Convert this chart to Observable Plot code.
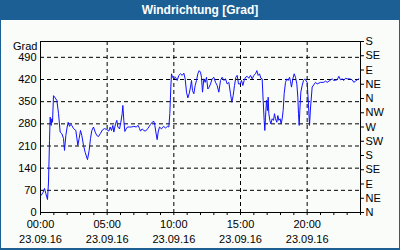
<!DOCTYPE html>
<html><head><meta charset="utf-8">
<script src="https://cdn.jsdelivr.net/npm/d3@7"></script>
<script src="https://cdn.jsdelivr.net/npm/@observablehq/plot@0.6"></script>
<style>
html,body{margin:0;padding:0;background:#fff;}
#wrap{box-sizing:border-box;width:400px;height:250px;border:1px solid #1c5f95;border-bottom-width:2px;background:#f9fcf9;overflow:hidden;}
#title{height:19px;background:#1c5f95;color:#fff;font:bold 12px "Liberation Sans",Arial,sans-serif;text-align:center;line-height:19px;}
svg{display:block;}
</style></head>
<body><div id="wrap"><div id="title">Windrichtung [Grad]</div><div id="chart"></div></div>
<script>
// time in minutes after 00:00 on 23.09.16
const minutes = [3,12,18,24,31.5,36,40.5,43.5,48,51,54,58.5,66,73.5,81,88.5,96,103.5,108,114,120,124.5,130.5,136.5,141,148.5,159,168,174,180,186,193.5,201,211.5,219,225,231,238.5,246,253.5,261,270,279,288,
298.5,307.5,313.5,319.5,325.5,330,337.5,343.5,348,355.5,361.5,367.5,370.5,375,379.5,385.5,391.5,400.5,409.5,420,430.5,439.5,445.5,450,457.5,465,472.5,481.5,487.5,495,502.5,510,514.5,520.5,525,529.5,535.5,544.5,553.5,562.5,571.5,577.5,582,586.5,589.5,594,
600,607.5,615,622.5,630,637.5,645,651,657,663,669,675,679.5,684,690,696,702,708,714,720,724.5,729,735,741,747,753,759,765,772.5,780,787.5,795,802.5,810,817.5,825,832.5,840,847.5,855,861,867,873,879,885,891,
898.5,904.5,910.5,916.5,922.5,930,937.5,945,952.5,960,967.5,973.5,979.5,985.5,991.5,997.5,1002,1006.5,1009.5,1012.5,1017,1021.5,1024.5,1027.5,1032,1036.5,1042.5,1048.5,1053,1057.5,1063.5,1068,1072.5,1078.5,1083,1087.5,1092,1096.5,1102.5,1108.5,1114.5,1120.5,1125,1129.5,1135.5,1141.5,1147.5,1153.5,1158,1161,1164,1167,1171.5,1177.5,1183.5,1189.5,
1200,1206,1210.5,1215,1222.5,1237.5,1245,1260,1275,1282.5,1290,1302,1312.5,1320,1335,1342.5,1350,1357.5,1365,1372.5,1380,1392,1402.5,1410,1417.5,1425,1432.5];
// wind direction in degrees
const degrees = [54,64,76,60,41,96,227,301,275,296,285,369,362,354,313,254,249,234,196,243,270,285,272,278,275,265,259,212,234,259,243,212,190,167,196,234,259,270,254,243,240,250,261,265,
262,257,270,259,275,254,280,291,270,264,285,312,338,291,256,264,270,270,270,272,270,275,265,257,264,259,257,264,270,278,285,288,275,248,230,254,270,264,272,267,272,270,312,396,438,427,
422,427,417,433,438,433,440,422,380,362,375,396,417,385,375,401,417,438,448,443,427,380,422,411,427,390,396,406,422,427,411,401,380,417,427,417,422,406,411,375,348,369,401,427,433,406,
406,417,401,417,427,430,424,433,422,433,438,448,433,438,424,422,354,291,259,301,354,322,364,312,291,280,296,291,312,296,285,306,291,296,280,296,322,375,411,422,417,427,414,396,422,438,427,406,364,312,275,322,380,401,417,422,
411,340,275,330,396,411,406,411,411,415,411,417,422,417,419,430,419,422,417,424,422,422,419,411,415,419,422];
const leftTicks = [0,70,140,210,280,350,420,490];
const compassTicks = [0,45,90,135,180,225,270,315,360,405,450,495,540];
const compassNames = ["N","NE","E","SE","S","SW","W","NW","N","NE","E","SE","S"];
const majorTimes = [0,300,600,900,1200];
const timeLabels = ["00:00","05:00","10:00","15:00","20:00"];
const dateLabel = "23.09.16";
const hourTicks = d3.range(0,1441,60);

const data = minutes.map((t,i)=>({t, v: degrees[i]}));

const chart = Plot.plot({
  width: 398, height: 228,
  marginLeft: 39, marginRight: 39, marginTop: 21, marginBottom: 36,
  style: {fontFamily: '"Liberation Sans", Arial, sans-serif', fontSize: "11px", background: "#f9fcf9", color: "black", overflow: "visible"},
  x: {domain: [0,1440]},
  y: {domain: [0,540]},
  marks: [
    Plot.gridY(leftTicks.filter(d=>d>0), {stroke: "black", strokeOpacity: 1, strokeDasharray: "4,3"}),
    Plot.gridX(majorTimes.filter(d=>d>0), {stroke: "black", strokeOpacity: 1, strokeDasharray: "4,3"}),
    Plot.axisY({ticks: leftTicks, tickSize: 0, tickPadding: 4, label: null, fill: "black"}),
    Plot.axisY({anchor: "right", ticks: compassTicks, tickSize: 3, tickPadding: 2, label: null, tickFormat: d => compassNames[compassTicks.indexOf(d)], fill: "black"}),
    Plot.axisX({ticks: hourTicks, tickSize: 3, tickFormat: () => "", label: null}),
    Plot.axisX({ticks: majorTimes, tickSize: 0, tickPadding: 8, label: null, tickFormat: d => timeLabels[majorTimes.indexOf(d)], fill: "black"}),
    Plot.axisX({ticks: majorTimes, tickSize: 0, tickPadding: 23, label: null, tickFormat: () => dateLabel, fill: "black"}),
    Plot.frame({stroke: "black"}),
    Plot.line(data, {x: "t", y: "v", stroke: "#1010ff", strokeWidth: 1}),
    Plot.text(["Grad"], {frameAnchor: "top-left", dx: -3, dy: 5, textAnchor: "end", lineAnchor: "middle", fill: "black"})
  ]
});
document.getElementById("chart").appendChild(chart);
</script></body></html>
